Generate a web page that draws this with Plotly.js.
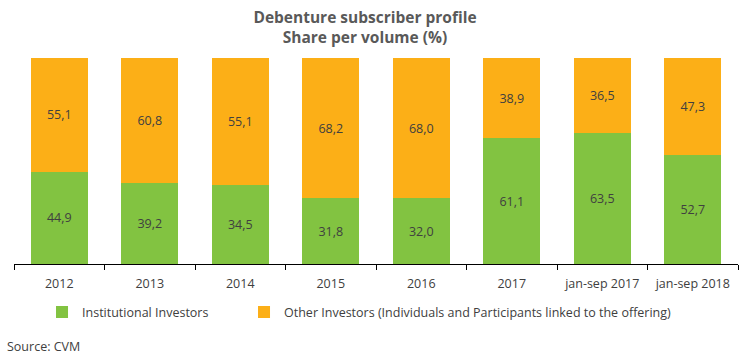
<!DOCTYPE html>
<html>
<head>
<meta charset="utf-8">
<script src="https://cdn.plot.ly/plotly-3.0.1.min.js"></script>
<style>html,body{margin:0;padding:0;background:#fff;}#chart{width:751px;height:358px;}</style>
</head>
<body>
<div id="chart"></div>
<script>
const categories = ['2012','2013','2014','2015','2016','2017','jan-sep 2017','jan-sep 2018'];
const institutional = [44.9, 39.2, 34.5, 31.8, 32.0, 61.1, 63.5, 52.7];
const others = [55.1, 60.8, 55.1, 68.2, 68.0, 38.9, 36.5, 47.3];
const seriesNames = ['Institutional Investors', 'Other Investors (Individuals and Participants linked to the offering)'];

const fmt = v => v.toFixed(1).replace('.', ',');
const FONT = 'Open Sans, sans-serif';

const traces = [
  {type:'bar', name: seriesNames[0], x: categories, y: institutional, legend:'legend',
   text: institutional.map(fmt), texttemplate:'%{text}', textposition:'inside', insidetextanchor:'middle',
   textfont:{color:'#404040', size:12.5, family:FONT}, marker:{color:'#82C341'}, hoverinfo:'skip'},
  {type:'bar', name: seriesNames[1], x: categories, y: others, legend:'legend2',
   text: others.map(fmt), texttemplate:'%{text}', textposition:'inside', insidetextanchor:'middle',
   textfont:{color:'#404040', size:12.5, family:FONT}, marker:{color:'#FCAF17'}, hoverinfo:'skip'}
];

const legendBase = {orientation:'h', xanchor:'left', y:-0.235, yanchor:'middle',
  font:{size:12.5, color:'#404040', family:FONT}, itemwidth:30, bgcolor:'rgba(0,0,0,0)'};

const layout = {
  width:751, height:358,
  margin:{l:14, r:13, t:58, b:94},
  barmode:'stack', barnorm:'percent', bargap:0.37,
  paper_bgcolor:'#fff', plot_bgcolor:'#fff',
  font:{family:FONT, color:'#404040', size:12},
  title:{text:'<b>Debenture subscriber profile<br>Share per volume (%)</b>', x:0.486, xanchor:'center',
         yref:'container', y:0.936, yanchor:'middle',
         font:{family:FONT, size:15.5, color:'#595959'}},
  xaxis:{type:'category', showline:true, linecolor:'#000', linewidth:1, ticks:'outside', tickson:'boundaries',
         ticklen:5, tickcolor:'#000', ticklabelstandoff:8, tickfont:{size:12.5, color:'#404040', family:FONT},
         showgrid:false, zeroline:false},
  yaxis:{range:[0,100], visible:false, showgrid:false, zeroline:false},
  showlegend:true,
  legend:Object.assign({}, legendBase, {x:0.0387}),
  legend2:Object.assign({}, legendBase, {x:0.3177}),
  annotations:[{text:'Source: CVM', xref:'paper', yref:'paper', x:-0.012, y:-0.40, xanchor:'left', yanchor:'middle',
                showarrow:false, font:{size:12.5, color:'#404040', family:FONT}}]
};

Plotly.newPlot('chart', traces, layout, {displayModeBar:false, staticPlot:true});
</script>
</body>
</html>
